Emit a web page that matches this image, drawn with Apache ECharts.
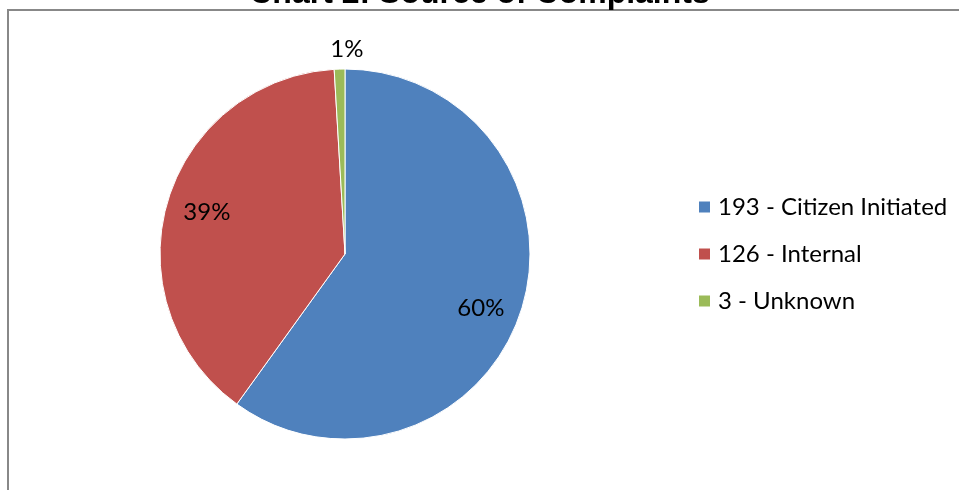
<!DOCTYPE html>
<html><head><meta charset="utf-8">
<script src="https://cdn.jsdelivr.net/npm/echarts@6/dist/echarts.min.js"></script>
<style>html,body{margin:0;padding:0;background:#fff}#c{width:959px;height:490px}</style>
</head><body><div id="c"></div>
<script>
const titleText = 'Chart 2: Source of Complaints';
const categories = ['193 - Citizen Initiated', '126 - Internal', '3 - Unknown'];
const values = [193, 126, 3];
const percentLabels = ['60%', '39%', '1%'];
const colors = ['#4F81BD', '#C0504D', '#9BBB59'];

const font = 'Lato, "Open Sans", "Liberation Sans", sans-serif';
const labelOffsets = [[-5, 9], [4, 0], [8, 3]];
const chart = echarts.init(document.getElementById('c'));
const center = [345, 254];

function overlay(radius, showIdx) {
  return {
    type: 'pie', radius: [0, radius], center: center, startAngle: 90, clockwise: true,
    silent: true, animation: false, legendHoverLink: false,
    itemStyle: { color: 'rgba(0,0,0,0)', borderWidth: 0 },
    labelLine: { show: false },
    data: categories.map((c, i) => ({
      name: c, value: values[i],
      label: {
        show: showIdx.includes(i), position: 'inside', offset: labelOffsets[i],
        formatter: percentLabels[i], color: '#000', fontSize: 24, fontFamily: font
      }
    }))
  };
}

chart.setOption({
  animation: false,
  title: {
    text: titleText, left: 'center', top: -27, padding: [5, 5, 5, 5],
    textStyle: { fontFamily: '"Liberation Sans", Arial, sans-serif', fontWeight: 'bold', fontSize: 32, color: '#000' }
  },
  graphic: [{
    type: 'rect', shape: { x: 8, y: 10, width: 1000, height: 600 },
    style: { fill: 'none', stroke: '#888888', lineWidth: 2 }, silent: true
  }],
  legend: {
    orient: 'vertical', left: 697, top: 195, padding: 0,
    itemWidth: 13, itemHeight: 13, itemGap: 23,
    icon: 'rect',
    textStyle: { fontFamily: font, fontSize: 24, lineHeight: 24, color: '#000', padding: [0, 0, 0, 2] },
    data: categories
  },
  series: [
    {
      type: 'pie', radius: [0, 185], center: center, startAngle: 90, clockwise: true,
      label: { show: false }, labelLine: { show: false },
      itemStyle: { borderColor: '#fff', borderWidth: 1 },
      data: categories.map((c, i) => ({ name: c, value: values[i], itemStyle: { color: colors[i] } }))
    },
    overlay(290, [0, 1]),
    overlay(410, [2])
  ]
});
</script></body></html>
